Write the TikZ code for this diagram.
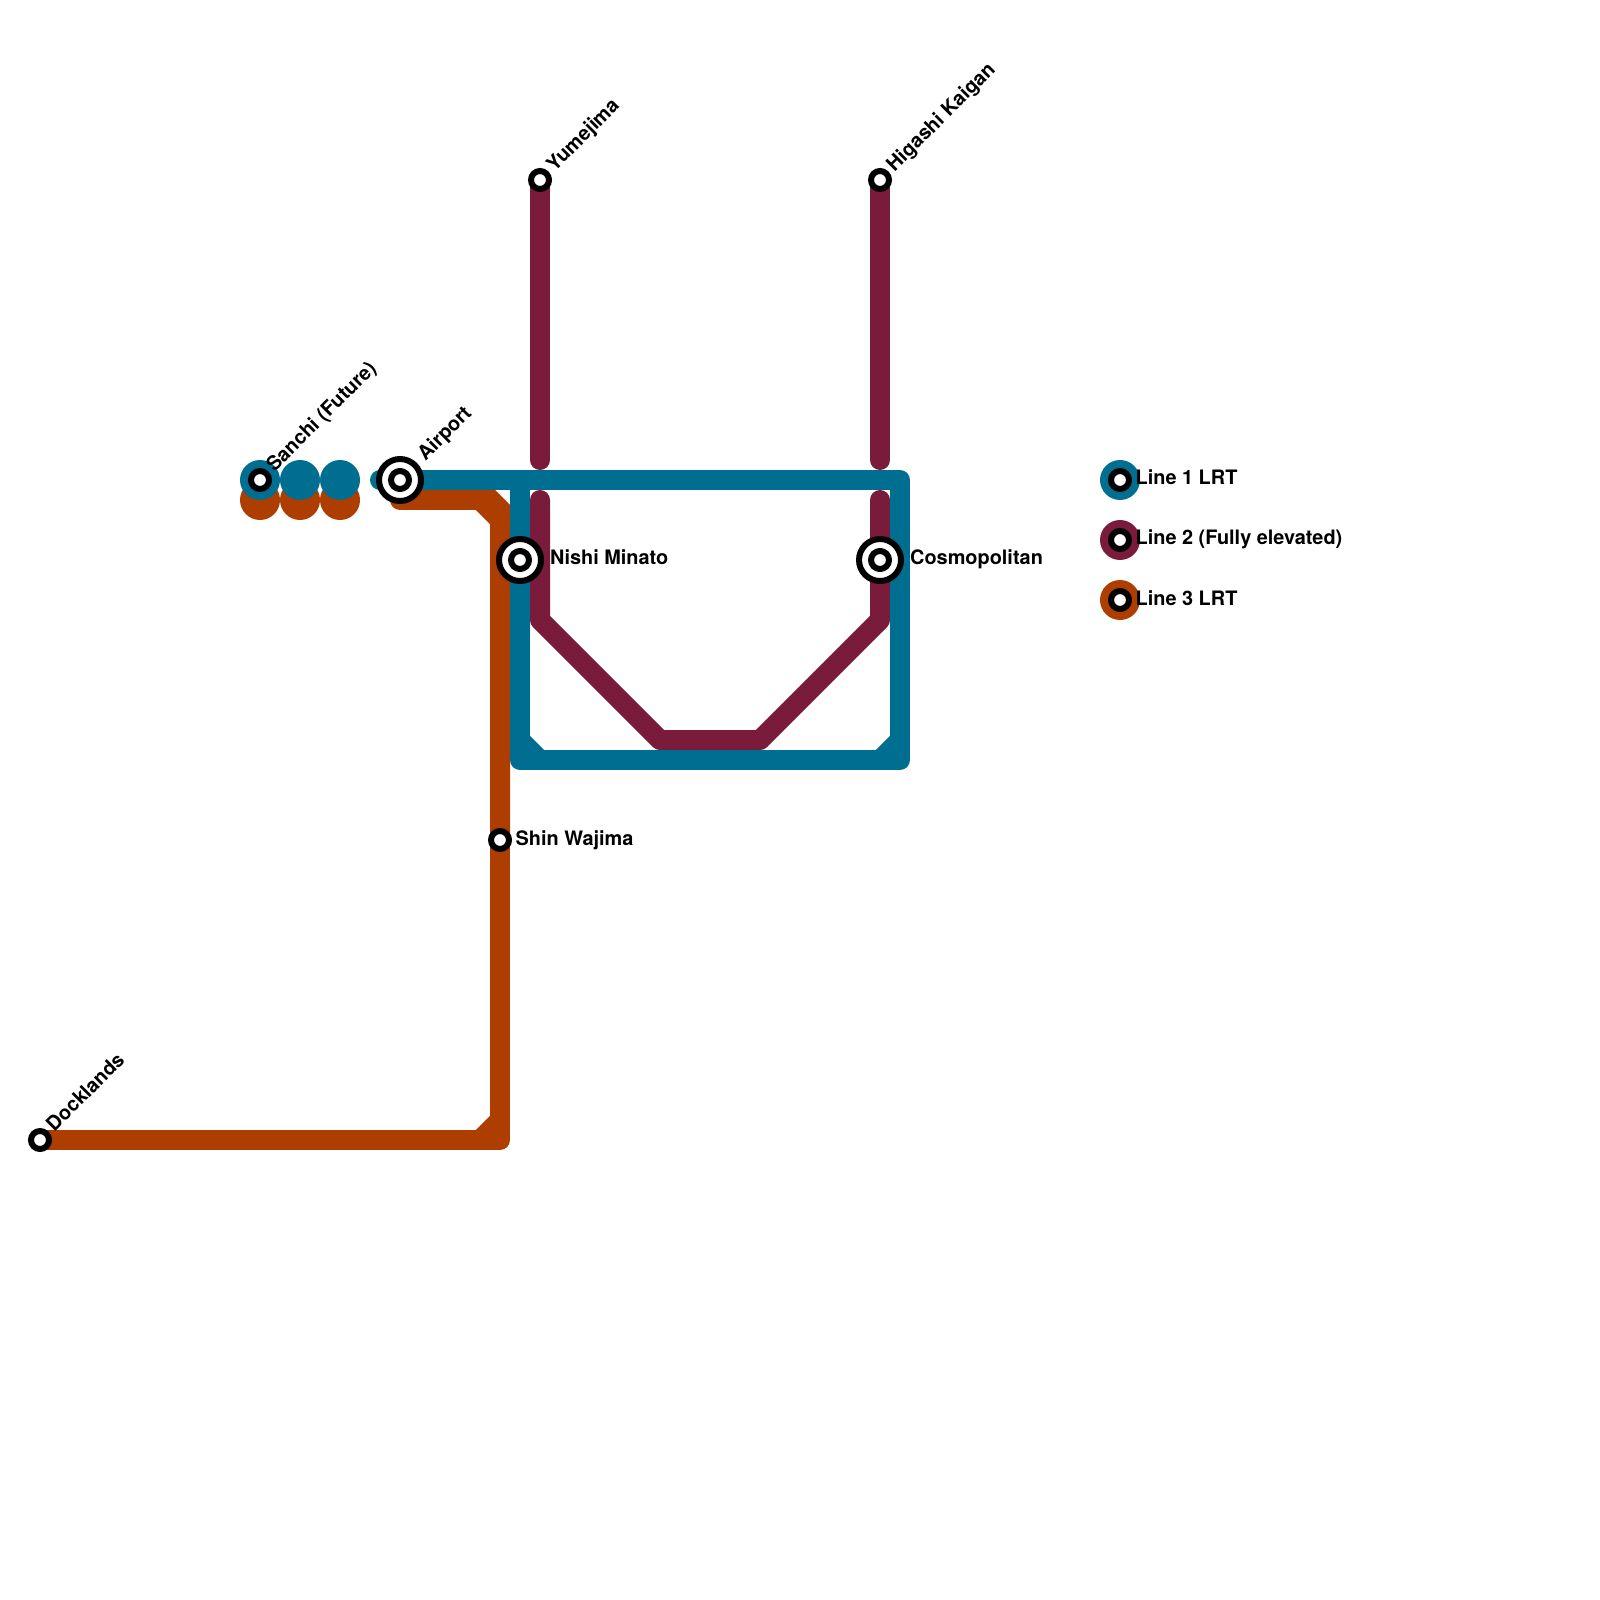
\documentclass[tikz,border=0pt]{standalone}
\usepackage{fontspec}
\setmainfont{TeX Gyre Heros}
\definecolor{lineblue}{RGB}{0,110,145}
\definecolor{linemaroon}{RGB}{122,27,60}
\definecolor{linerust}{RGB}{174,62,0}
\tikzset{
    trackline/.style={line width=2mm, line cap=round, line join=round},
    trackstub/.style={line width=2mm},
    stopmark/.style={circle, draw=black, fill=white, line width=0.06cm, minimum size=0.18cm, inner sep=0pt, outer sep=0pt},
    hubmark/.style={circle, draw=black, fill=white, line width=0.06cm, minimum size=0.42cm, inner sep=0pt, outer sep=0pt},
    stoptext/.style={anchor=base west, inner sep=0pt, font=\bfseries\fontsize{5.66}{6}\selectfont},
    slanttext/.style={stoptext, rotate=45}
}
\begin{document}
\begin{tikzpicture}[x=1cm, y=-1cm]
    \useasboundingbox (0,0) rectangle (16,16);

    % Stops and bends
    \coordinate (docklandsPt) at (0.4,11.4);
    \coordinate (sanchiPt) at (2.6,4.8);
    \coordinate (airportPt) at (4.0,4.8);
    \coordinate (nishiPt) at (5.2,5.6);
    \coordinate (wajimaPt) at (5.0,8.4);
    \coordinate (yumePt) at (5.4,1.8);
    \coordinate (higashiPt) at (8.8,1.8);
    \coordinate (cosmoPt) at (8.8,5.6);

    % Line 2
    \draw[trackline, linemaroon] (yumePt) -- (5.4,4.6);
    \draw[trackline, linemaroon] (higashiPt) -- (8.8,4.6);
    \draw[trackline, linemaroon] (5.4,5.0) -- (5.4,6.2) -- (6.6,7.4) -- (7.6,7.4) -- (8.8,6.2) -- (8.8,5.0);

    % Line 3
    \foreach \x in {2.6,3.0,3.4} {
        \fill[linerust] (\x,5.0) circle (0.2);
    }
    \draw[trackline, line join=miter, linerust] (4.0,5.0) -- (4.91,5.0) -- (5.0,5.09) -- (wajimaPt);
    \draw[trackline, linerust] (wajimaPt) -- (5.0,11.4) -- (docklandsPt);
    \draw[trackstub, linerust] (4.8,5.0) -- (5.0,5.2);
    \draw[trackstub, linerust] (5.0,11.2) -- (4.8,11.4);

    % Line 1
    \foreach \x in {2.6,3.0,3.4} {
        \fill[lineblue] (\x,4.8) circle (0.2);
    }
    \draw[trackline, lineblue] (3.8,4.8) -- (airportPt) -- (9.0,4.8) -- (9.0,7.6) -- (5.2,7.6) -- (nishiPt) -- (5.2,4.8);
    \draw[trackstub, lineblue] (5.2,7.4) -- (5.4,7.6);
    \draw[trackstub, lineblue] (9.0,7.4) -- (8.8,7.6);

    % Legend
    \fill[lineblue] (11.2,4.8) circle (0.2);
    \fill[linemaroon] (11.2,5.4) circle (0.2);
    \fill[linerust] (11.2,6.0) circle (0.2);

    % Single stops
    \node[stopmark] (docklands) at (docklandsPt) {};
    \node[stopmark] (sanchi) at (sanchiPt) {};
    \node[stopmark] (wajima) at (wajimaPt) {};
    \node[stopmark] (yume) at (yumePt) {};
    \node[stopmark] (higashi) at (higashiPt) {};

    % Interchanges
    \foreach \name/\pt in {airport/airportPt, nishi/nishiPt, cosmo/cosmoPt} {
        \node[hubmark] (\name Ring) at (\pt) {};
        \node[stopmark] (\name) at (\pt) {};
    }

    % Legend stops
    \node[stopmark] (keyone) at (11.2,4.8) {};
    \node[stopmark] (keytwo) at (11.2,5.4) {};
    \node[stopmark] (keythree) at (11.2,6.0) {};

    % Names
    \node[slanttext] (docklandsText) at (0.54,11.33) {Docklands};
    \node[slanttext] (sanchiText) at (2.74,4.73) {Sanchi (Future)};
    \node[slanttext] (airportText) at (4.25,4.62) {Airport};
    \node[slanttext] (yumeText) at (5.54,1.73) {Yumejima};
    \node[slanttext] (higashiText) at (8.94,1.73) {Higashi Kaigan};
    \node[stoptext] (nishiText) at (5.495,5.65) {Nishi Minato};
    \node[stoptext] (cosmoText) at (9.095,5.65) {Cosmopolitan};
    \node[stoptext] (wajimaText) at (5.15,8.45) {Shin Wajima};
    \node[stoptext] (keyoneText) at (11.35,4.85) {Line 1 LRT};
    \node[stoptext] (keytwoText) at (11.35,5.45) {Line 2 (Fully elevated)};
    \node[stoptext] (keythreeText) at (11.35,6.05) {Line 3 LRT};
\end{tikzpicture}
\end{document}
